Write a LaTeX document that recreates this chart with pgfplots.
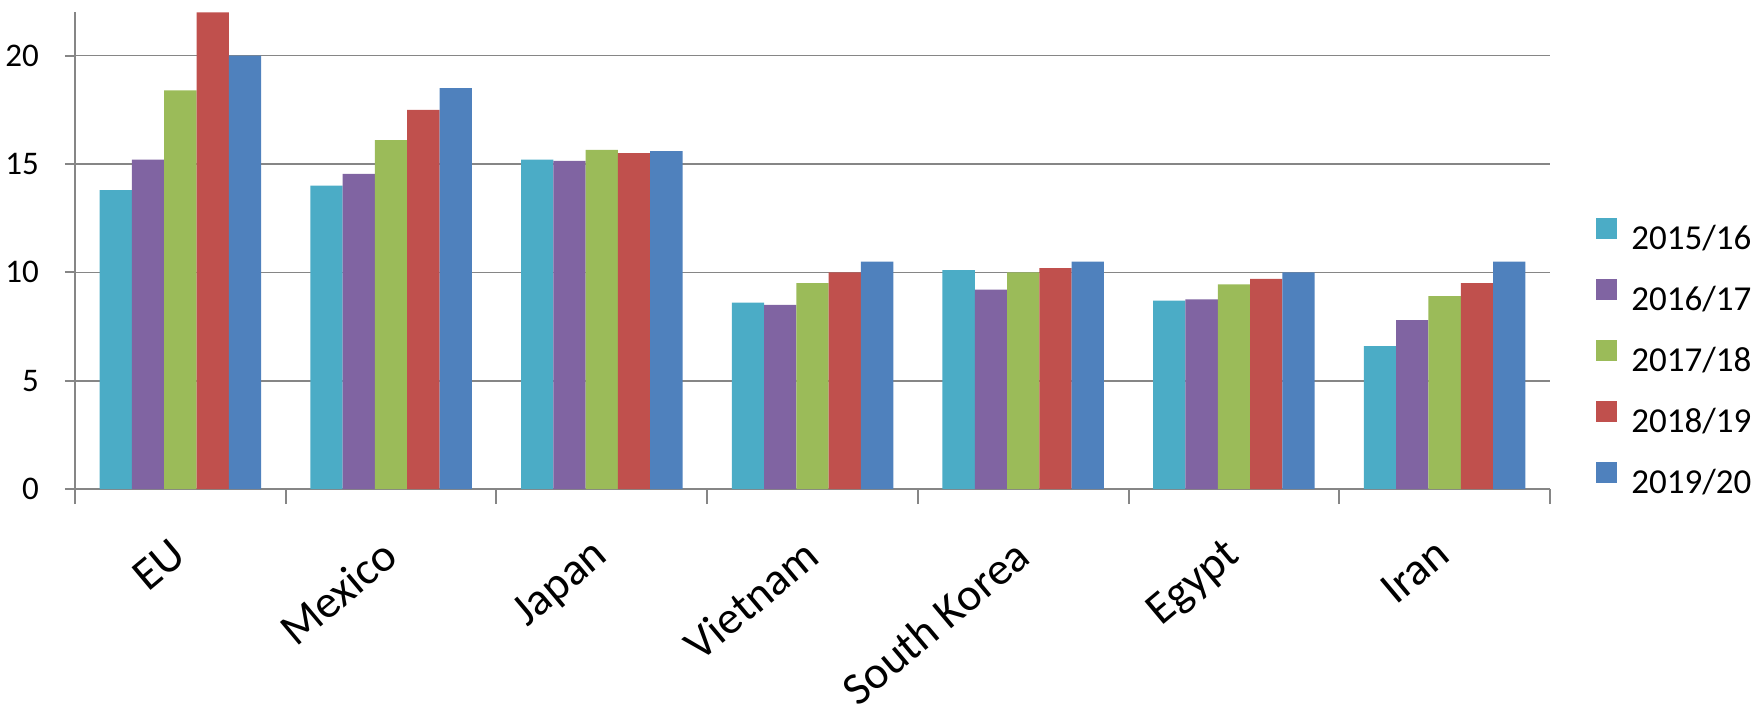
\documentclass[border=0pt]{standalone}
\usepackage{pgfplots}
\pgfplotsset{compat=1.18}
\usepackage{pgfplotstable}
\usepackage{fontspec}
\setmainfont{Carlito}
\definecolor{c1}{HTML}{4BACC6}
\definecolor{c2}{HTML}{8064A2}
\definecolor{c3}{HTML}{9BBB59}
\definecolor{c4}{HTML}{C0504D}
\definecolor{c5}{HTML}{4F81BD}
\definecolor{axgray}{RGB}{134,134,134}

\pgfplotstableread{
x  a     b      c      d     e
0  13.8  15.2   18.4   22.0  20.0
1  14.0  14.55  16.1   17.5  18.5
2  15.2  15.15  15.65  15.5  15.6
3  8.6   8.5    9.5    10.0  10.5
4  10.1  9.2    10.0   10.2  10.5
5  8.7   8.75   9.45   9.7   10.0
6  6.6   7.8    8.9    9.5   10.5
}\datatable

\begin{document}
\begin{tikzpicture}
\begin{axis}[
  scale only axis, width=737.5pt, height=238.4pt,
  xmin=-0.5, xmax=6.5, ymin=0, ymax=22,
  ybar=0pt, bar width=16.15pt,
  axis x line*=bottom, axis y line*=left,
  axis line style={axgray, line width=1pt},
  xtick={0,1,2,3,4,5,6},
  xticklabels={EU,Mexico,Japan,Vietnam,South Korea,Egypt,Iran},
  major x tick style={draw=none},
  minor xtick={-0.5,0.5,1.5,2.5,3.5,4.5,5.5,6.5},
  minor tick length=7.5pt,
  minor x tick style={axgray, line width=1pt},
  ytick={0,5,10,15,20},
  major tick length=5pt,
  tick align=outside,
  ytick style={axgray, line width=1pt},
  ymajorgrids, grid style={axgray, line width=0.8pt},
  /pgf/number format/assume math mode=true,
  yticklabel style={font=\fontsize{16.5}{19}\selectfont, xshift=-9.5pt},
  xticklabel style={font=\fontsize{23}{27}\selectfont, inner sep=1pt, xshift=-5.5pt, yshift=-17pt, rotate=40, anchor=north east},
  legend style={draw=none, fill=none, at={(1,0.57)}, anchor=north west, xshift=23pt,
    inner sep=0pt, row sep=14.5pt, font=\fontsize{17.5}{20}\selectfont,
    nodes={inner sep=0pt, text height=11pt, text depth=0pt},
    /tikz/every odd column/.append style={column sep=7pt}},
  legend cell align=left,
  legend image code/.code={\fill[#1] (0pt,0pt) rectangle (10.5pt,10.5pt);},
]
\addplot[fill=c1, draw=none] table[x=x, y=a] {\datatable};
\addplot[fill=c2, draw=none] table[x=x, y=b] {\datatable};
\addplot[fill=c3, draw=none] table[x=x, y=c] {\datatable};
\addplot[fill=c4, draw=none] table[x=x, y=d] {\datatable};
\addplot[fill=c5, draw=none] table[x=x, y=e] {\datatable};
\legend{2015/16,2016/17,2017/18,2018/19,2019/20}
\end{axis}
\pgfresetboundingbox
\path[use as bounding box] ([xshift=-37.5pt,yshift=-108.5pt]current axis.south west) rectangle ([xshift=104.5pt,yshift=6.15pt]current axis.north east);
\end{tikzpicture}
\end{document}
